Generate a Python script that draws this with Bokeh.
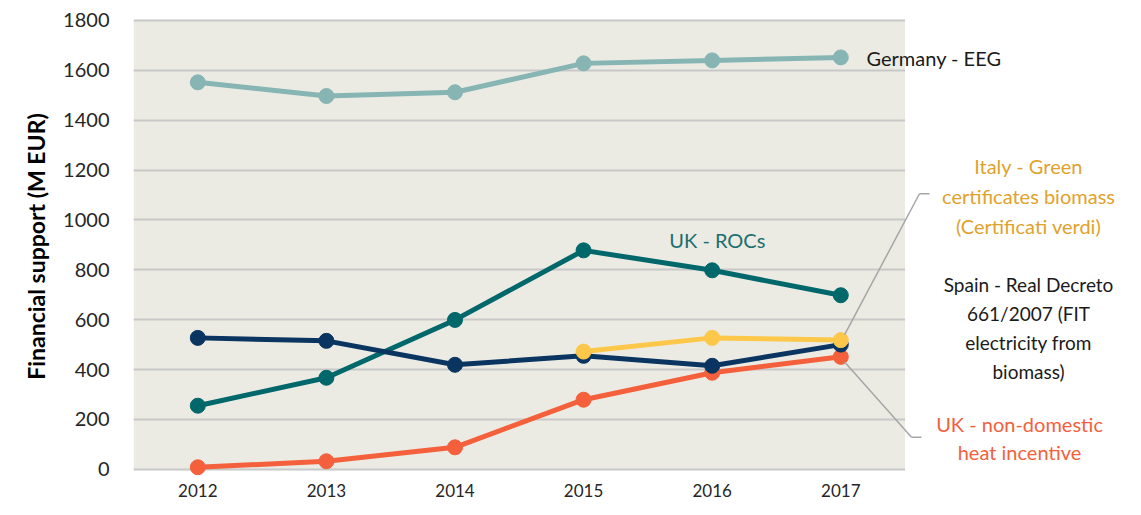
from bokeh.plotting import figure
from bokeh.models import Range1d, FixedTicker, BoxAnnotation, Label, Arrow
from bokeh.embed import file_html
from bokeh.resources import INLINE

years = [2012, 2013, 2014, 2015, 2016, 2017]
germany_eeg = [1552, 1497, 1512, 1628, 1640, 1652]
uk_rocs = [255, 367, 599, 878, 798, 698]
spain_rd = [527, 515, 419, 455, 415, 500]
italy_years = [2015, 2016, 2017]
italy_gc = [472, 527, 518]
uk_ndhi = [8, 32, 88, 279, 387, 451]

y_ticks = [0, 200, 400, 600, 800, 1000, 1200, 1400, 1600, 1800]

FONT = "Lato"

p = figure(width=1125, height=499, output_backend="svg", toolbar_location=None,
           x_range=Range1d(2011.5, 2019.214), y_range=Range1d(-25, 1812),
           min_border_left=133, min_border_right=0, min_border_top=17,
           min_border_bottom=22)
p.outline_line_color = None
p.background_fill_color = "white"
p.border_fill_color = "white"

bg = BoxAnnotation(bottom=0, top=1800, right=2017.5, fill_color="#ebebe3", fill_alpha=1.0,
                   line_color=None, level="image")
p.add_layout(bg)

p.xgrid.grid_line_color = None
p.ygrid.grid_line_color = "#c8c8c8"
p.ygrid.grid_line_width = 2
p.yaxis.ticker = FixedTicker(ticks=y_ticks)
p.xaxis.ticker = FixedTicker(ticks=years)

# white cover for the grid outside the plotting area (annotation zone)
cover = BoxAnnotation(left=2017.5, bottom=-100, top=2000, fill_color="white", fill_alpha=1.0,
                      line_color=None, level="underlay")
p.add_layout(cover)

for ax in (p.xaxis, p.yaxis):
    ax.axis_line_color = None
    ax.major_tick_line_color = None
    ax.minor_tick_line_color = None
    ax.major_tick_out = 0
    ax.major_tick_in = 0
    ax.major_label_text_font = FONT
    ax.major_label_text_color = "#262626"
p.yaxis.major_label_text_font_size = "20px"
p.xaxis.major_label_text_font_size = "17px"
p.yaxis.major_label_standoff = 24
p.xaxis.major_label_standoff = 8
p.yaxis.axis_label = "Financial support (M EUR)"
p.yaxis.axis_label_text_font = FONT
p.yaxis.axis_label_text_font_size = "23px"
p.yaxis.axis_label_text_font_style = "bold"
p.yaxis.axis_label_text_color = "black"
p.yaxis.axis_label_standoff = 10

series = [
    (years, uk_ndhi, "#f4603c"),
    (years, uk_rocs, "#00676b"),
    (years, spain_rd, "#0b3561"),
    (italy_years, italy_gc, "#fdc84a"),
    (years, germany_eeg, "#86b5b4"),
]
for xs, ys, c in series:
    p.line(xs, ys, line_color=c, line_width=5)
    p.scatter(xs, ys, size=15, fill_color=c, line_color=c)

# leader lines
LC = "#a6a6a6"
p.add_layout(Arrow(end=None, x_start=2017.03, y_start=540, x_end=2017.612, y_end=1105,
                   line_color=LC, line_width=1.5))
p.add_layout(Arrow(end=None, x_start=2017.612, y_start=1105, x_end=2017.69, y_end=1105,
                   line_color=LC, line_width=1.5))
p.add_layout(Arrow(end=None, x_start=2017.03, y_start=430, x_end=2017.55, y_end=128,
                   line_color=LC, line_width=1.5))
p.add_layout(Arrow(end=None, x_start=2017.55, y_start=128, x_end=2017.627, y_end=128,
                   line_color=LC, line_width=1.5))

def lab(x, y, text, color, align="center", size="20px"):
    p.add_layout(Label(x=x, y=y, text=text, text_color=color, text_font=FONT,
                       text_font_size=size, text_align=align, text_baseline="middle"))

lab(2017.20, 1648, "Germany - EEG", "#1a1a1a", align="left")
lab(2016.04, 918, "UK - ROCs", "#1a6f70")
for i, t in enumerate(["Italy - Green", "certificates biomass", "(Certificati verdi)"]):
    lab(2018.46, 1217 - i * 120, t, "#e0a22c")
for i, t in enumerate(["Spain - Real Decreto", "661/2007 (FIT", "electricity from", "biomass)"]):
    lab(2018.46, 742 - i * 117, t, "#1a1a1a", size="19px")
for i, t in enumerate(["UK - non-domestic", "heat incentive"]):
    lab(2018.39, 180 - i * 112, t, "#f4603c")

open("out.html", "w").write(file_html(p, INLINE))
